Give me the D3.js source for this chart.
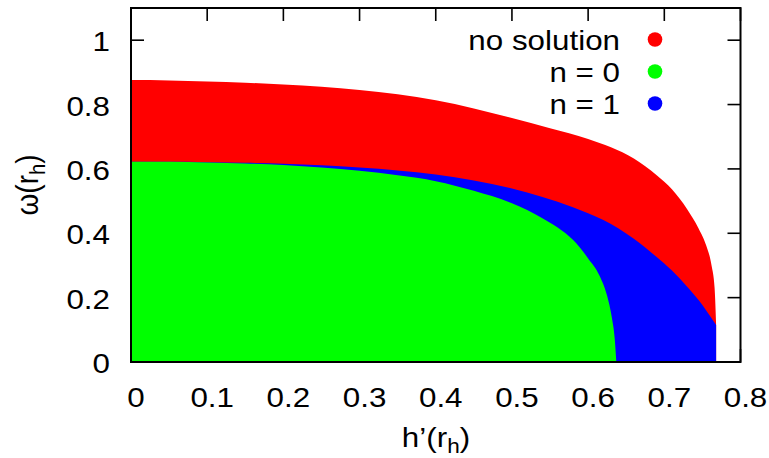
<!DOCTYPE html>
<html>
<head>
<meta charset="utf-8">
<script src="https://cdn.jsdelivr.net/npm/d3@7"></script>
<style>
  html, body { margin: 0; padding: 0; background: #fff; }
  svg { display: block; }
  text { font-family: "Liberation Sans", Arial, Helvetica, sans-serif; fill: #000; }
</style>
</head>
<body>
<svg id="chart" width="769" height="458"></svg>
<script>
// Upper edge of the "no solution" band: h'(r_h) -> omega(r_h)
const topH   = [0, 0.05, 0.10, 0.15, 0.20, 0.25, 0.30, 0.35, 0.40, 0.45, 0.50, 0.55, 0.60, 0.63, 0.66, 0.69, 0.71, 0.73, 0.745, 0.755, 0.762, 0.766, 0.768];
const topW   = [0.876, 0.875, 0.872, 0.868, 0.862, 0.855, 0.845, 0.832, 0.813, 0.788, 0.758, 0.726, 0.693, 0.667, 0.632, 0.580, 0.537, 0.475, 0.415, 0.362, 0.300, 0.230, 0.115];

// Boundary between "no solution" and the n = 1 region
const n1H    = [0, 0.05, 0.10, 0.15, 0.20, 0.25, 0.30, 0.35, 0.40, 0.45, 0.50, 0.54, 0.58, 0.62, 0.66, 0.69, 0.71, 0.73, 0.75, 0.76, 0.768];
const n1W    = [0.622, 0.622, 0.621, 0.619, 0.616, 0.611, 0.604, 0.595, 0.583, 0.564, 0.539, 0.513, 0.481, 0.441, 0.383, 0.326, 0.284, 0.234, 0.177, 0.143, 0.115];

// Upper edge of the n = 0 region
const n0H    = [0, 0.05, 0.10, 0.15, 0.20, 0.25, 0.30, 0.35, 0.40, 0.45, 0.50, 0.54, 0.56, 0.58, 0.60, 0.615, 0.625, 0.631, 0.635, 0.637];
const n0W    = [0.622, 0.622, 0.620, 0.617, 0.612, 0.604, 0.594, 0.580, 0.562, 0.532, 0.493, 0.447, 0.418, 0.380, 0.322, 0.268, 0.205, 0.140, 0.070, 0.0];

const xTicks = [0, 0.1, 0.2, 0.3, 0.4, 0.5, 0.6, 0.7, 0.8];
const yTicks = [0, 0.2, 0.4, 0.6, 0.8, 1];
const legendLabels = ["no solution", "n = 0", "n = 1"];
const legendColors = ["#ff0000", "#00ff00", "#0000ff"];

const svg = d3.select("#chart");
const plotL = 131, plotR = 740.5, plotT = 8, plotB = 362;
const x = d3.scaleLinear().domain([0, 0.8]).range([plotL, plotR]);
const y = d3.scaleLinear().domain([0, 1.1]).range([plotB, plotT]);

const FS = 28;      // label font size
const SX = 1.12;    // horizontal stretch of the lettering

function label(g, tx, ty, str, anchor) {
  return g.append("g")
    .attr("transform", `translate(${tx},${ty}) scale(${SX},1)`)
    .append("text")
    .attr("text-anchor", anchor)
    .attr("font-size", FS)
    .text(str);
}

const pts = (hs, ws) => hs.map((h, i) => [h, ws[i]]);
const TL = 13;

// tick marks (mirrored on all four sides, pointing inward); fills go over them
const ticks = svg.append("g").attr("stroke", "#000").attr("stroke-width", 1.6);
xTicks.forEach(v => {
  ticks.append("line").attr("x1", x(v)).attr("x2", x(v)).attr("y1", plotB).attr("y2", plotB - TL);
  ticks.append("line").attr("x1", x(v)).attr("x2", x(v)).attr("y1", plotT).attr("y2", plotT + TL);
});
yTicks.forEach(v => {
  ticks.append("line").attr("x1", plotL).attr("x2", plotL + TL).attr("y1", y(v)).attr("y2", y(v));
  ticks.append("line").attr("x1", plotR).attr("x2", plotR - TL).attr("y1", y(v)).attr("y2", y(v));
});

// regions, stacked back to front: each one filled down to omega = 0
const area = d3.area()
  .curve(d3.curveMonotoneX)
  .x(d => x(d[0])).y0(y(0)).y1(d => y(d[1]));

const fills = svg.append("g");
fills.append("path").attr("d", area(pts(topH, topW))).attr("fill", legendColors[0]);
fills.append("path").attr("d", area(pts(n1H, n1W))).attr("fill", legendColors[2]);
fills.append("path").attr("d", area(pts(n0H, n0W))).attr("fill", legendColors[1]);

// frame
svg.append("rect")
  .attr("x", plotL).attr("y", plotT)
  .attr("width", plotR - plotL).attr("height", plotB - plotT)
  .attr("fill", "none").attr("stroke", "#000").attr("stroke-width", 2);

// tick labels
const lab = svg.append("g");
xTicks.forEach(v => label(lab, x(v) + 5, 407, d3.format("")(v), "middle"));
yTicks.forEach(v => label(lab, 110, y(v) + 11, d3.format("")(v), "end"));

// axis titles
const xt = svg.append("g").attr("transform", `translate(436,447) scale(${SX},1)`)
  .append("text").attr("text-anchor", "middle").attr("font-size", FS);
xt.append("tspan").text("h’(r");
xt.append("tspan").attr("font-size", FS * 0.72).attr("dy", 6).text("h");
xt.append("tspan").attr("dy", -6).text(")");

const yt = svg.append("g").attr("transform", `translate(38,185) rotate(-90) scale(1,${SX})`)
  .append("text").attr("text-anchor", "middle").attr("font-size", FS);
yt.append("tspan").text("ω(r");
yt.append("tspan").attr("font-size", FS * 0.72).attr("dy", 6).text("h");
yt.append("tspan").attr("dy", -6).text(")");

// legend
const lg = svg.append("g");
legendLabels.forEach((s, i) => {
  label(lg, 620, 49.5 + i * 32, s, "end");
  lg.append("circle").attr("cx", 655).attr("cy", 39.5 + i * 32).attr("r", 7.3).attr("fill", legendColors[i]);
});
</script>
</body>
</html>
